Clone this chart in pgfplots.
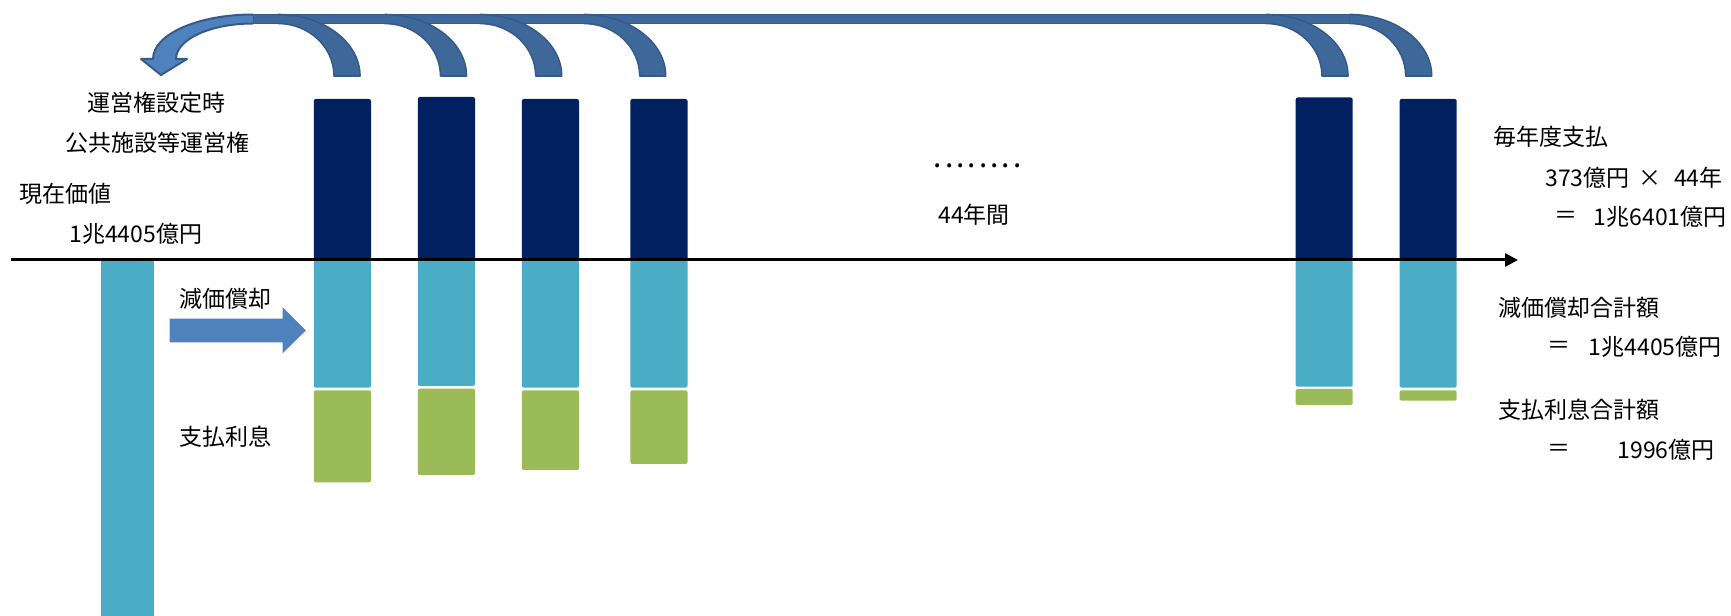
\documentclass[border=0pt]{standalone}
\usepackage{pgfplots}
\pgfplotsset{compat=1.18}
\usepackage{fontspec}
\setmainfont{Noto Sans CJK JP}
\usetikzlibrary{arrows.meta}
\definecolor{navy}{HTML}{002060}
\definecolor{tealc}{HTML}{4BACC6}
\definecolor{greenc}{HTML}{9BBB59}
\definecolor{arrowc}{HTML}{4F81BD}
\definecolor{ribbon}{HTML}{3E6899}
\definecolor{ribbonedge}{HTML}{355B8B}
\tikzset{txt/.style={inner sep=0pt, font=\fontsize{11.5pt}{13pt}\selectfont, text=black}}
\begin{document}
\begin{tikzpicture}
\begin{axis}[scale only axis, width=865.5pt, height=308pt,
  xmin=0, xmax=1731, ymin=-356, ymax=260,
  axis lines=none, clip=true]
% ---- bars: dark (annual payment), teal (depreciation), green (interest)
\addplot[fill=navy, draw=none, rounded corners=1pt] coordinates {(313.8,0) (371,0) (371,161) (313.8,161)} -- cycle;
\addplot[fill=navy, draw=none, rounded corners=1pt] coordinates {(417.9,0) (475,0) (475,163) (417.9,163)} -- cycle;
\addplot[fill=navy, draw=none, rounded corners=1pt] coordinates {(521.9,0) (579,0) (579,161) (521.9,161)} -- cycle;
\addplot[fill=navy, draw=none, rounded corners=1pt] coordinates {(630.4,0) (687.5,0) (687.5,161) (630.4,161)} -- cycle;
\addplot[fill=navy, draw=none, rounded corners=1pt] coordinates {(1295.7,0) (1352.7,0) (1352.7,162.5) (1295.7,162.5)} -- cycle;
\addplot[fill=navy, draw=none, rounded corners=1pt] coordinates {(1399.7,0) (1456.7,0) (1456.7,161) (1399.7,161)} -- cycle;
%
\addplot[fill=tealc, draw=none] coordinates {(100.5,0) (153.8,0) (153.8,-360) (100.5,-360)} -- cycle;
\addplot[fill=tealc, draw=none, rounded corners=1pt] coordinates {(313.8,0) (371,0) (371,-127.7) (313.8,-127.7)} -- cycle;
\addplot[fill=tealc, draw=none, rounded corners=1pt] coordinates {(417.9,0) (475,0) (475,-126) (417.9,-126)} -- cycle;
\addplot[fill=tealc, draw=none, rounded corners=1pt] coordinates {(521.9,0) (579,0) (579,-127.7) (521.9,-127.7)} -- cycle;
\addplot[fill=tealc, draw=none, rounded corners=1pt] coordinates {(630.4,0) (687.5,0) (687.5,-127.7) (630.4,-127.7)} -- cycle;
\addplot[fill=tealc, draw=none, rounded corners=1pt] coordinates {(1295.7,0) (1352.7,0) (1352.7,-126.7) (1295.7,-126.7)} -- cycle;
\addplot[fill=tealc, draw=none, rounded corners=1pt] coordinates {(1399.7,0) (1456.7,0) (1456.7,-127.7) (1399.7,-127.7)} -- cycle;
%
\addplot[fill=greenc, draw=none, rounded corners=1pt] coordinates {(313.8,-130.3) (371,-130.3) (371,-222.3) (313.8,-222.3)} -- cycle;
\addplot[fill=greenc, draw=none, rounded corners=1pt] coordinates {(417.9,-128.7) (475,-128.7) (475,-215) (417.9,-215)} -- cycle;
\addplot[fill=greenc, draw=none, rounded corners=1pt] coordinates {(521.9,-130.3) (579,-130.3) (579,-210) (521.9,-210)} -- cycle;
\addplot[fill=greenc, draw=none, rounded corners=1pt] coordinates {(630.4,-130.3) (687.5,-130.3) (687.5,-204) (630.4,-204)} -- cycle;
\addplot[fill=greenc, draw=none, rounded corners=1pt] coordinates {(1295.7,-129) (1352.7,-129) (1352.7,-145) (1295.7,-145)} -- cycle;
\addplot[fill=greenc, draw=none, rounded corners=1pt] coordinates {(1399.7,-130.3) (1456.7,-130.3) (1456.7,-140.7) (1399.7,-140.7)} -- cycle;
% ---- time axis
\draw[line width=1.5pt, -{Triangle[length=6.5pt,width=6.5pt]}] (axis cs:11,0) -- (axis cs:1518,0);
% ---- ribbon band and arcs
\path[fill=ribbon, draw=ribbonedge, line width=0.8pt] (axis cs:253,245.5) rectangle (axis cs:1349.7,236.5);
\foreach \s/\e in {278/334, 384.5/440.5, 479.7/535.7, 583.7/639.7, 1266/1322, 1349.7/1405.7}{
  \edef\temp{\noexpand\path[fill=ribbon, draw=ribbonedge, line width=0.8pt, line join=round]
    (axis cs:\s,245.5) arc[start angle=90,end angle=0,x radius=41pt,y radius=30.75pt]
    -- (axis cs:\e,184) arc[start angle=0,end angle=90,x radius=28pt,y radius=26.25pt];}
  \temp
}
% left returning arrow
\path[fill=arrowc, draw=ribbonedge, line width=1pt, line join=round]
  (axis cs:253,245.5) arc[start angle=90,end angle=180,x radius=50pt,y radius=22.25pt]
  -- (axis cs:141,201) -- (axis cs:161,185) -- (axis cs:187,201) -- (axis cs:176,201)
  arc[start angle=180,end angle=90,x radius=38.5pt,y radius=17.75pt];
% block arrow (depreciation)
\fill[arrowc] (axis cs:169.6,-58.7) -- (axis cs:282.6,-58.7) -- (axis cs:282.6,-47.3)
  -- (axis cs:305.8,-70.5) -- (axis cs:282.6,-93.3) -- (axis cs:282.6,-82.3) -- (axis cs:169.6,-82.3) -- cycle;
% ---- texts
\node[txt, anchor=west] at (axis cs:87,157) {運営権設定時};
\node[txt, anchor=west] at (axis cs:64.7,117.5) {公共施設等運営権};
\node[txt, anchor=west] at (axis cs:18.8,66) {現在価値};
\node[txt, anchor=west] at (axis cs:69,26) {1兆4405億円};
\node[txt, anchor=west] at (axis cs:178.6,-39) {減価償却};
\node[txt, anchor=west] at (axis cs:179,-177) {支払利息};
\node[txt, anchor=base west, font=\fontsize{15pt}{15pt}\selectfont] at (axis cs:933.5,92.5) {.\kern1.5pt.\kern1.5pt.\kern1.5pt.\kern1.5pt.\kern1.5pt.\kern1.5pt.\kern1.5pt.};
\node[txt, anchor=west] at (axis cs:938,45) {44年間};
\node[txt, anchor=west] at (axis cs:1493,123) {毎年度支払};
\node[txt, anchor=west] at (axis cs:1545,82) {373億円};
\node[txt] at (axis cs:1650,82) {×};
\node[txt, anchor=east] at (axis cs:1723,82) {44年};
\node[txt] at (axis cs:1565.5,43) {＝};
\node[txt, anchor=east] at (axis cs:1727,43) {1兆6401億円};
\node[txt, anchor=west] at (axis cs:1498,-48) {減価償却合計額};
\node[txt] at (axis cs:1559,-87) {＝};
\node[txt, anchor=east] at (axis cs:1722,-87) {1兆4405億円};
\node[txt, anchor=west] at (axis cs:1498,-150) {支払利息合計額};
\node[txt] at (axis cs:1559,-190) {＝};
\node[txt, anchor=east] at (axis cs:1715,-190) {1996億円};
\end{axis}
\pgfresetboundingbox
\useasboundingbox (0,0) rectangle (865.5pt,308pt);
\end{tikzpicture}
\end{document}
